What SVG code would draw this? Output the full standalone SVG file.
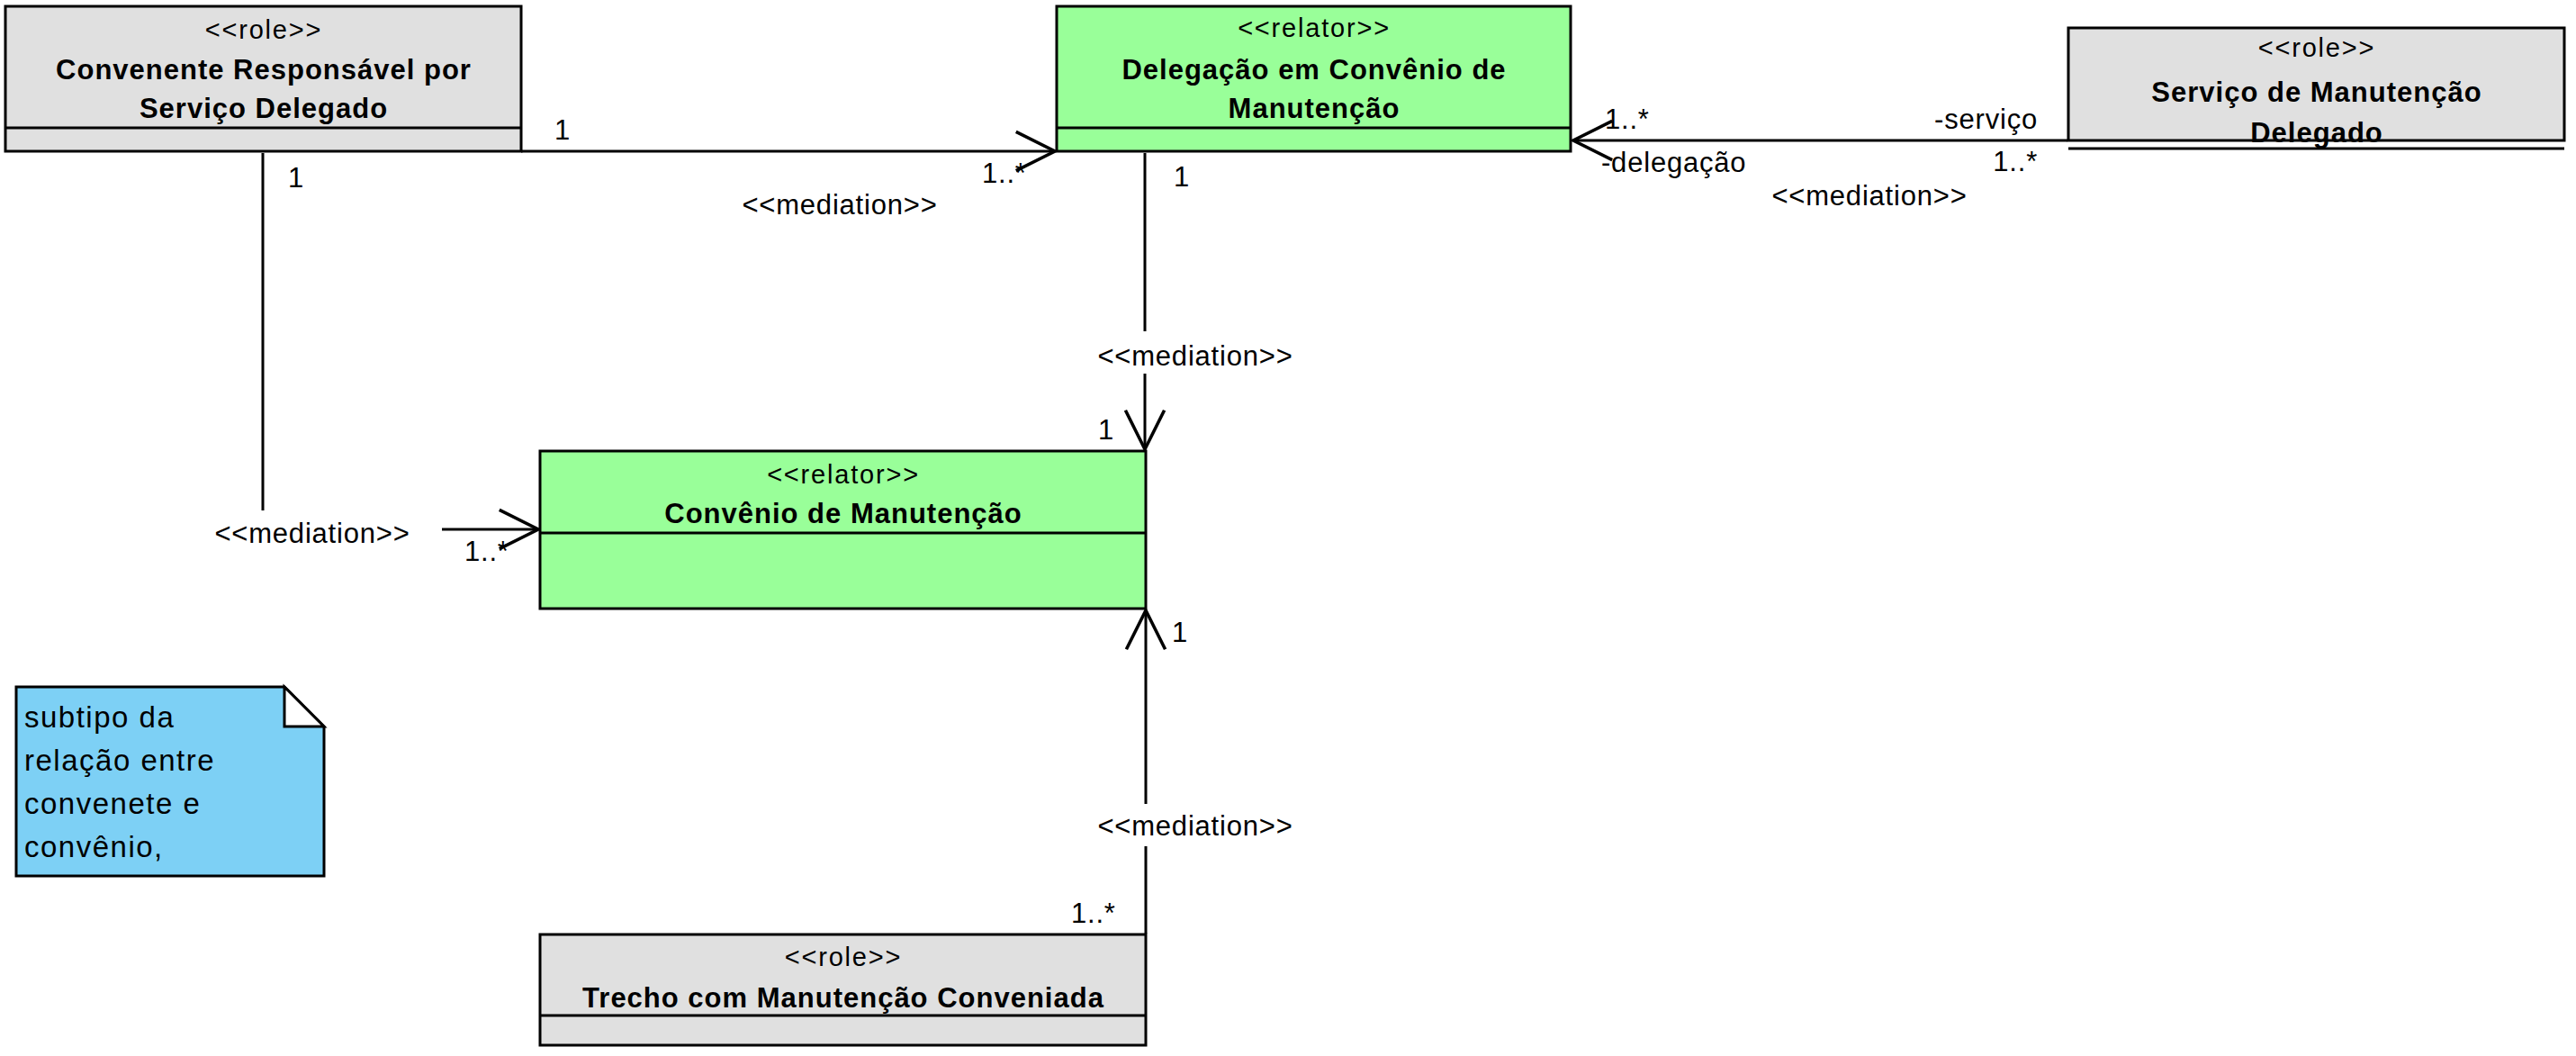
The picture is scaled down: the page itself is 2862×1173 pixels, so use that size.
<svg xmlns="http://www.w3.org/2000/svg" width="2862" height="1173" viewBox="0 0 2862 1173">
<style>
  .box { stroke: #000; stroke-width: 3; }
  .role { fill: #e0e0e0; }
  .relator { fill: #99ff99; }
  .div { stroke: #000; stroke-width: 3; fill: none; }
  .st { font-family: "Liberation Sans", Arial, sans-serif; font-size: 29px; letter-spacing: 1.8px; text-anchor: middle; fill: #000; }
  .nm { font-family: "Liberation Sans", Arial, sans-serif; font-size: 31px; font-weight: bold; letter-spacing: 1px; text-anchor: middle; fill: #000; }
  .lb { font-family: "Liberation Sans", Arial, sans-serif; font-size: 31px; letter-spacing: 0.8px; fill: #000; }
  .nt { font-family: "Liberation Sans", Arial, sans-serif; font-size: 33px; letter-spacing: 1.5px; fill: #000; }
  .conn { stroke: #000; stroke-width: 3; fill: none; }
</style>
<defs>
  <marker id="open" markerUnits="userSpaceOnUse" markerWidth="60" markerHeight="60" refX="0" refY="0" viewBox="-40 -25 50 50" orient="auto" overflow="visible">
    <path d="M-36,-18 L0,0 L-36,18" fill="none" stroke="#000" stroke-width="3"/>
  </marker>
</defs>

<g id="connectors">
  <path class="conn" d="M579,168 H1172" marker-end="url(#open)"/>
  <path class="conn" d="M292,170 V567 M491,588 H598" marker-end="url(#open)"/>
  <path class="conn" d="M1272,170 V368 M1272,415 V499" marker-end="url(#open)"/>
  <path class="conn" d="M2297,156 H1748" marker-end="url(#open)"/>
  <path class="conn" d="M1273,1037 V940 M1273,893 V678" marker-end="url(#open)"/>
  <text class="lb" x="616" y="155">1</text>
  <text class="lb" x="1091" y="203">1..*</text>
  <text class="lb" x="933" y="238" text-anchor="middle">&lt;&lt;mediation&gt;&gt;</text>
  <text class="lb" x="320" y="208">1</text>
  <text class="lb" x="347" y="603" text-anchor="middle">&lt;&lt;mediation&gt;&gt;</text>
  <text class="lb" x="516" y="623">1..*</text>
  <text class="lb" x="1304" y="207">1</text>
  <text class="lb" x="1328" y="406" text-anchor="middle">&lt;&lt;mediation&gt;&gt;</text>
  <text class="lb" x="1220" y="488">1</text>
  <text class="lb" x="1783" y="143">1..*</text>
  <text class="lb" x="1779" y="191">-delegação</text>
  <text class="lb" x="2077" y="228" text-anchor="middle">&lt;&lt;mediation&gt;&gt;</text>
  <text class="lb" x="2264" y="143" text-anchor="end">-serviço</text>
  <text class="lb" x="2264" y="190" text-anchor="end">1..*</text>
  <text class="lb" x="1302" y="713">1</text>
  <text class="lb" x="1328" y="928" text-anchor="middle">&lt;&lt;mediation&gt;&gt;</text>
  <text class="lb" x="1190" y="1025">1..*</text>
</g>

<g id="convenente">
  <rect class="box role" x="6" y="7" width="573" height="161"/>
  <line class="div" x1="6" y1="142" x2="579" y2="142"/>
  <text class="st" x="293" y="43">&lt;&lt;role&gt;&gt;</text>
  <text class="nm" x="293" y="88">Convenente Responsável por</text>
  <text class="nm" x="293" y="131">Serviço Delegado</text>
</g>

<g id="delegacao">
  <rect class="box relator" x="1174" y="7" width="571" height="161"/>
  <line class="div" x1="1174" y1="142" x2="1745" y2="142"/>
  <text class="st" x="1460" y="41">&lt;&lt;relator&gt;&gt;</text>
  <text class="nm" x="1460" y="88">Delegação em Convênio de</text>
  <text class="nm" x="1460" y="131">Manutenção</text>
</g>

<g id="servico">
  <rect class="box role" x="2298" y="31" width="551" height="125"/>
  <line class="div" x1="2298" y1="165" x2="2849" y2="165"/>
  <text class="st" x="2574" y="63">&lt;&lt;role&gt;&gt;</text>
  <text class="nm" x="2574" y="113">Serviço de Manutenção</text>
  <text class="nm" x="2574" y="158">Delegado</text>
</g>

<g id="convenio">
  <rect class="box relator" x="600" y="501" width="673" height="175"/>
  <line class="div" x1="600" y1="592" x2="1273" y2="592"/>
  <text class="st" x="937" y="537">&lt;&lt;relator&gt;&gt;</text>
  <text class="nm" x="937" y="581">Convênio de Manutenção</text>
</g>

<g id="trecho">
  <rect class="box role" x="600" y="1038" width="673" height="123"/>
  <line class="div" x1="600" y1="1128" x2="1273" y2="1128"/>
  <text class="st" x="937" y="1073">&lt;&lt;role&gt;&gt;</text>
  <text class="nm" x="937" y="1119">Trecho com Manutenção Conveniada</text>
</g>

<g id="note">
  <path d="M18,763 H316 L360,807 V973 H18 Z" fill="#7dd0f5" stroke="#000" stroke-width="3"/>
  <path d="M316,763 V807 H360 Z" fill="#fff" stroke="#000" stroke-width="3"/>
  <text class="nt" x="27" y="808">subtipo da</text>
  <text class="nt" x="27" y="856">relação entre</text>
  <text class="nt" x="27" y="904">convenete e</text>
  <text class="nt" x="27" y="952">convênio,</text>
</g>
</svg>
